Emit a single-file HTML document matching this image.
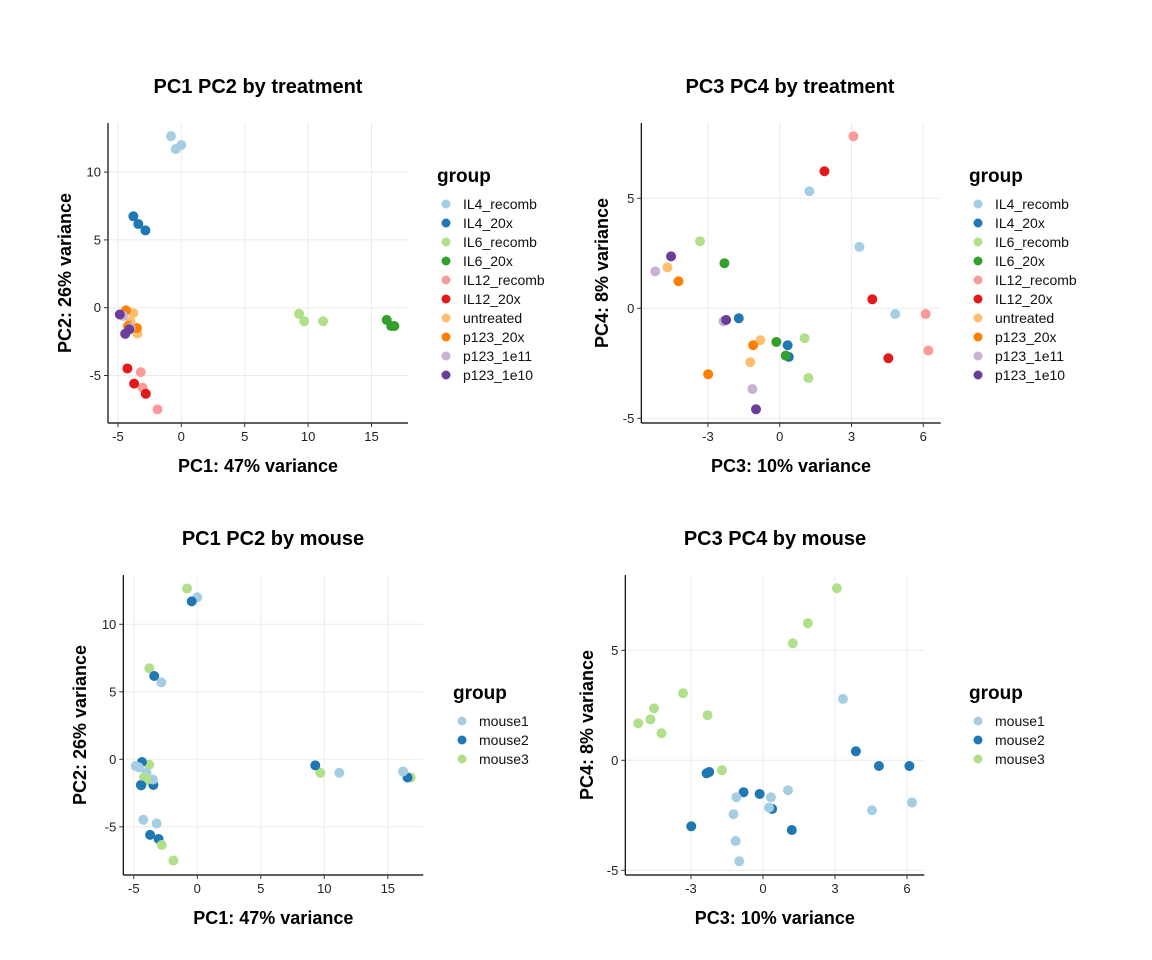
<!DOCTYPE html>
<html><head><meta charset="utf-8"><style>
html,body{margin:0;padding:0;background:#fff;}
svg{display:block;font-family:"Liberation Sans",Arial,sans-serif;}
</style></head><body>
<svg id="c" width="1152" height="960" xmlns="http://www.w3.org/2000/svg"></svg>
<script>
const groups = ["IL4_recomb","IL4_20x","IL6_recomb","IL6_20x","IL12_recomb","IL12_20x","untreated","p123_20x","p123_1e11","p123_1e10"];
const groupColors = ["#A6CEE3","#1F78B4","#B2DF8A","#33A02C","#FB9A99","#E31A1C","#FDBF6F","#FF7F00","#CAB2D6","#6A3D9A"];
const mice = ["mouse1","mouse2","mouse3"];
const mouseColors = ["#A6CEE3","#1F78B4","#B2DF8A"];
const sampleGroup = [0,0,0, 1,1,1, 2,2,2, 3,3,3, 4,4,4, 5,5,5, 6,6,6, 7,7,7, 8,8,8, 9,9,9];
const sampleMouse = [2,0,1, 2,1,0, 2,0,1, 2,1,0, 2,1,0, 2,1,0, 2,1,0, 2,0,1, 2,1,0, 2,1,0];
const pc1 = [-0.81,0,-0.44, -3.78,-3.39,-2.83, 9.69,11.18,9.29, 16.8,16.55,16.2, -1.88,-3.05,-3.2, -2.8,-3.72,-4.25, -3.78,-3.46,-4.0, -4.2,-3.5,-4.36, -4.0,-4.44,-4.6, -4.1,-4.42,-4.85];
const pc2 = [12.65,12.0,11.7, 6.74,6.17,5.7, -1.0,-1.0,-0.45, -1.35,-1.35,-0.9, -7.5,-5.9,-4.75, -6.35,-5.6,-4.48, -0.4,-1.9,-1.0, -1.35,-1.5,-0.2, -1.5,-1.9,-0.6, -1.6,-1.93,-0.5];
const pc3 = [1.24,3.33,4.83, -1.71,0.38,0.33, -3.33,1.04,1.2, -2.31,-0.14,0.25, 3.08,6.1,6.21, 1.87,3.87,4.54, -4.69,-0.81,-1.23, -4.23,-1.11,-2.99, -5.2,-2.35,-1.14, -4.54,-2.24,-0.99];
const pc4 = [5.32,2.79,-0.26, -0.45,-2.21,-1.68, 3.05,-1.36,-3.17, 2.05,-1.53,-2.15, 7.82,-0.26,-1.92, 6.23,0.41,-2.27, 1.86,-1.45,-2.45, 1.23,-1.68,-3.0, 1.68,-0.59,-3.67, 2.36,-0.53,-4.59];
const xTicks12 = [-5,0,5,10,15];
const yTicks12 = [-5,0,5,10];
const xTicks34 = [-3,0,3,6];
const yTicks34 = [-5,0,5];

const NS="http://www.w3.org/2000/svg";
const svg=document.getElementById('c');
function el(tag,attrs,parent,text){const e=document.createElementNS(NS,tag);for(const k in attrs)e.setAttribute(k,attrs[k]);if(text!==undefined)e.textContent=text;(parent||svg).appendChild(e);return e;}

function panel(cfg){
  const g=el('g',{});
  
  
  const sx=v=>cfg.x0+cfg.kx*v, sy=v=>cfg.y0-cfg.ky*v;
  const L=cfg.left,R=cfg.right,T=cfg.top,B=cfg.bottom;
  // grid
  cfg.xt.forEach(t=>{const l=el('line',{x1:sx(t),x2:sx(t),y1:T,y2:B,stroke:'#ebebeb','stroke-width':1},g);
    
    });
  cfg.yt.forEach(t=>{const l=el('line',{x1:L,x2:R,y1:sy(t),y2:sy(t),stroke:'#ebebeb','stroke-width':1},g);
    
    });
  // points
  for(let i=0;i<cfg.xs.length;i++){
    const c=el('circle',{cx:sx(cfg.xs[i]),cy:sy(cfg.ys[i]),r:5,fill:cfg.colorOf(i)},g);
    
    
  }
  // axes
  const ax=el('line',{x1:L,x2:L,y1:T,y2:B,stroke:'#000','stroke-width':1.2},g);
  
  
  const bx=el('line',{x1:L,x2:R,y1:B,y2:B,stroke:'#000','stroke-width':1.2},g);
  
  
  cfg.xt.forEach(t=>{
    el('line',{x1:sx(t),x2:sx(t),y1:B,y2:B+4,stroke:'#333'},g);
    const tx=el('text',{x:sx(t),y:B+18,'text-anchor':'middle','font-size':13,fill:'#222'},g,String(t));
    
    
  });
  cfg.yt.forEach(t=>{
    el('line',{x1:L-4,x2:L,y1:sy(t),y2:sy(t),stroke:'#333'},g);
    const tx=el('text',{x:L-7,y:sy(t)+4.5,'text-anchor':'end','font-size':13,fill:'#222'},g,String(t));
    
    
  });
  const ti=el('text',{x:cfg.titleX,y:93,'text-anchor':'middle','font-size':20,'font-weight':'bold'},g,cfg.title);
  ti.setAttribute('transform','translate(0,'+cfg.dy+')');
  
  
  const xl=el('text',{x:(L+R)/2,y:B+49,'text-anchor':'middle','font-size':18,'font-weight':'bold'},g,cfg.xlab);
  
  
  const yx=cfg.ylabX, yc=(T+B)/2;
  const yl=el('text',{x:yx,y:yc,'text-anchor':'middle','font-size':18,'font-weight':'bold',transform:'rotate(-90 '+yx+' '+yc+')'},g,cfg.ylab);
  
  
  // legend
  const lg=el('g',{},g);
  
  
  const lt=el('text',{x:cfg.legX,y:cfg.legY,'font-size':19,'font-weight':'bold'},lg,'group');
  
  
  cfg.legLabels.forEach((lab,i)=>{
    const y=cfg.legY+22+i*19;
    const e=el('g',{},lg);
    
    
    el('circle',{cx:cfg.legX+9,cy:y,r:4.5,fill:cfg.legColors[i]},e);
    el('text',{x:cfg.legX+26,y:y+5,'font-size':14,fill:'#111'},e,lab);
  });
}

const gc=i=>groupColors[sampleGroup[i]], gl=i=>groups[sampleGroup[i]];
const mc=i=>mouseColors[sampleMouse[i]], ml=i=>mice[sampleMouse[i]];

panel({name:'pc1-pc2-by-treatment',xs:pc1,ys:pc2,x0:181.3,kx:12.68,y0:307.7,ky:13.56,left:108,right:408,top:123,bottom:423,
  xt:xTicks12,yt:yTicks12,title:'PC1 PC2 by treatment',titleX:258,dy:0,xlab:'PC1: 47% variance',ylab:'PC2: 26% variance',ylabX:71,
  colorOf:gc,labelOf:gl,legX:437,legY:182,legLabels:groups,legColors:groupColors});
panel({name:'pc3-pc4-by-treatment',xs:pc3,ys:pc4,x0:779.7,kx:23.93,y0:308.3,ky:22,left:641.3,right:940.7,top:123,bottom:423,
  xt:xTicks34,yt:yTicks34,title:'PC3 PC4 by treatment',titleX:790,dy:0,xlab:'PC3: 10% variance',ylab:'PC4: 8% variance',ylabX:608,
  colorOf:gc,labelOf:gl,legX:969,legY:182,legLabels:groups,legColors:groupColors});
panel({name:'pc1-pc2-by-mouse',xs:pc1,ys:pc2,x0:197.3,kx:12.7,y0:759.3,ky:13.5,left:123.3,right:423.3,top:575,bottom:875,
  xt:xTicks12,yt:yTicks12,title:'PC1 PC2 by mouse',titleX:273,dy:452,xlab:'PC1: 47% variance',ylab:'PC2: 26% variance',ylabX:86,
  colorOf:mc,labelOf:ml,legX:453,legY:699,legLabels:mice,legColors:mouseColors});
panel({name:'pc3-pc4-by-mouse',xs:pc3,ys:pc4,x0:763,kx:24,y0:760.3,ky:22,left:625.3,right:924.3,top:575,bottom:875,
  xt:xTicks34,yt:yTicks34,title:'PC3 PC4 by mouse',titleX:775,dy:452,xlab:'PC3: 10% variance',ylab:'PC4: 8% variance',ylabX:593,
  colorOf:mc,labelOf:ml,legX:969,legY:699,legLabels:mice,legColors:mouseColors});
</script>
</body></html>
